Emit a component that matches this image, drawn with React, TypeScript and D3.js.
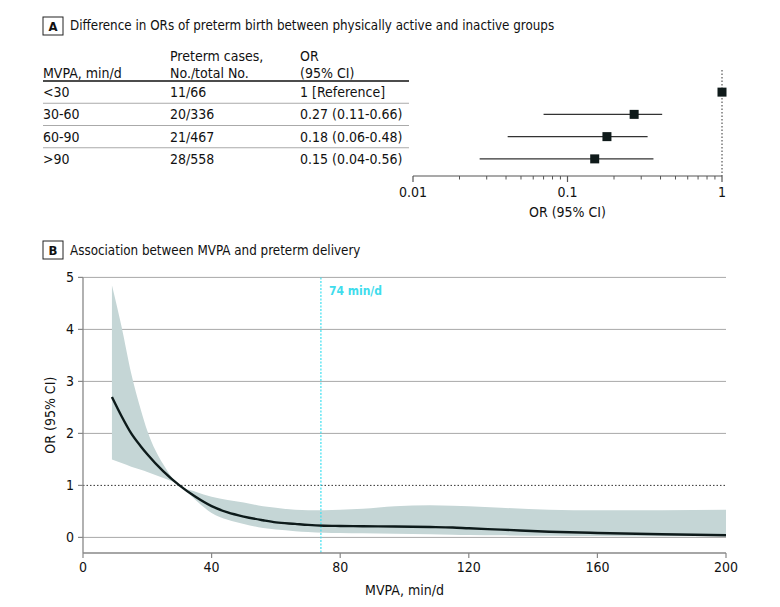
import React from 'react';
import * as d3 from 'd3';

// Panel A table + forest plot
const groups = ['<30', '30-60', '60-90', '>90'];
const cases = ['11/66', '20/336', '21/467', '28/558'];
const orText = ['1 [Reference]', '0.27 (0.11-0.66)', '0.18 (0.06-0.48)', '0.15 (0.04-0.56)'];
const orPoint = [1, 0.27, 0.18, 0.15];
// CI ends as drawn in the plot
const ciLow = [null, 0.07, 0.041, 0.027];
const ciHigh = [null, 0.41, 0.33, 0.36];
const forestTicks = [0.01, 0.1, 1];

// Panel B spline
const mvpa = [9, 12, 15, 18, 20, 25, 30, 35, 40, 45, 50, 56, 60, 66, 70, 75, 80, 87, 97, 108, 115, 120, 130, 145, 160, 180, 200];
const orCurve = [2.7, 2.33, 2.0, 1.75, 1.6, 1.27, 1.0, 0.78, 0.6, 0.48, 0.4, 0.33, 0.29, 0.26, 0.24, 0.225, 0.22, 0.215, 0.21, 0.2, 0.19, 0.175, 0.15, 0.11, 0.085, 0.06, 0.04];
const ciUpper = [4.85, 4.05, 3.15, 2.45, 2.05, 1.4, 1.0, 0.88, 0.78, 0.72, 0.67, 0.6, 0.57, 0.53, 0.52, 0.52, 0.53, 0.55, 0.6, 0.62, 0.61, 0.6, 0.57, 0.53, 0.52, 0.52, 0.53];
const ciLower = [1.5, 1.43, 1.36, 1.3, 1.26, 1.14, 1.0, 0.72, 0.47, 0.34, 0.26, 0.18, 0.15, 0.12, 0.105, 0.09, 0.085, 0.08, 0.07, 0.06, 0.05, 0.045, 0.04, 0.03, 0.025, 0.02, 0.02];
const xTicks = [0, 40, 80, 120, 160, 200];
const yTicks = [0, 1, 2, 3, 4, 5];
const cutoff = 74;

const FONT = '"Liberation Sans Narrow", "DejaVu Sans Condensed", "Arial Narrow", sans-serif';

export default function App() {
  // forest scales
  const fx = d3.scaleLog().domain([0.01, 1]).range([413, 722]);
  const rowY = d3.scaleBand<string>().domain(groups).range([81, 170]).paddingInner(0);
  const rowMid = (g: string) => (rowY(g) || 0) + rowY.bandwidth() / 2;
  const minorTicks = fx.ticks().filter(t => !forestTicks.some(m => Math.abs(m - t) < 1e-9));

  // spline scales
  const x = d3.scaleLinear().domain([0, 200]).range([83, 726]);
  const y = d3.scaleLinear().domain([-0.3, 5]).range([553, 277.4]);

  const pts = mvpa.map((m, i) => ({ m, or: orCurve[i], lo: ciLower[i], hi: ciUpper[i] }));
  const area = d3.area<typeof pts[0]>()
    .x(d => x(d.m)).y0(d => y(d.lo)).y1(d => y(d.hi))
    .curve(d3.curveMonotoneX);
  const line = d3.line<typeof pts[0]>()
    .x(d => x(d.m)).y(d => y(d.or))
    .curve(d3.curveMonotoneX);

  const colX = [43, 170, 300];

  return (
    <svg width={780} height={607} style={{ position: 'absolute', left: 0, top: 0, background: '#fff' }}
      fontFamily={FONT}>
      {/* Panel A header */}
      <rect x={43} y={17} width={20} height={18} fill="none" stroke="#222" strokeWidth={1} />
      <text x={53} y={31} textAnchor="middle" fontSize={13} fontWeight="bold" fill="#111">A</text>
      <text x={70} y={30} fontSize={13.3} fill="#111">Difference in ORs of preterm birth between physically active and inactive groups</text>

      {/* table header */}
      <g fontSize={14} fill="#111">
        <text x={colX[0]} y={78}>MVPA, min/d</text>
        <text x={colX[1]} y={61}>Preterm cases,</text>
        <text x={colX[1]} y={78}>No./total No.</text>
        <text x={colX[2]} y={61}>OR</text>
        <text x={colX[2]} y={78}>(95% CI)</text>
      </g>
      <line x1={43} x2={409} y1={81} y2={81} stroke="#111" strokeWidth={1.6} />
      {groups.map((g, i) => (
        <g key={g} fontSize={14} fill="#111">
          <text x={colX[0]} y={rowMid(g) + 5}>{g}</text>
          <text x={colX[1]} y={rowMid(g) + 5}>{cases[i]}</text>
          <text x={colX[2]} y={rowMid(g) + 5}>{orText[i]}</text>
          {i < groups.length - 1 && (
            <line x1={43} x2={409} y1={(rowY(g) || 0) + rowY.bandwidth()} y2={(rowY(g) || 0) + rowY.bandwidth()}
              stroke="#aaa" strokeWidth={1} />
          )}
        </g>
      ))}

      {/* forest plot */}
      <line x1={fx(1)} x2={fx(1)} y1={70} y2={176} stroke="#333" strokeWidth={1} strokeDasharray="1.5,2" />
      {groups.map((g, i) => (
        <g key={'f' + g}>
          {ciLow[i] != null && (
            <line x1={fx(ciLow[i] as number)} x2={fx(ciHigh[i] as number)} y1={rowMid(g)} y2={rowMid(g)}
              stroke="#333" strokeWidth={1.3} />
          )}
          <rect x={fx(orPoint[i]) - 4.5} y={rowMid(g) - 4.5} width={9} height={9} fill="#0f1a1a" />
        </g>
      ))}
      <line x1={fx(0.01)} x2={fx(1)} y1={176} y2={176} stroke="#555" strokeWidth={1.2} />
      {forestTicks.map(t => (
        <g key={'ft' + t}>
          <line x1={fx(t)} x2={fx(t)} y1={176} y2={182} stroke="#555" strokeWidth={1.2} />
          <text x={fx(t)} y={197} textAnchor="middle" fontSize={14} fill="#111">{t}</text>
        </g>
      ))}
      {minorTicks.map(t => (
        <line key={'mt' + t} x1={fx(t)} x2={fx(t)} y1={176} y2={179.5} stroke="#555" strokeWidth={1} />
      ))}
      <text x={fx(0.1)} y={217} textAnchor="middle" fontSize={14} fill="#111">OR (95% CI)</text>

      {/* Panel B header */}
      <rect x={43} y={241} width={20} height={18} fill="none" stroke="#222" strokeWidth={1} />
      <text x={53} y={255} textAnchor="middle" fontSize={13} fontWeight="bold" fill="#111">B</text>
      <text x={70} y={255} fontSize={13.3} fill="#111">Association between MVPA and preterm delivery</text>

      {/* grid */}
      {yTicks.filter(t => t !== 1).map(t => (
        <line key={'g' + t} x1={x(0)} x2={x(200)} y1={y(t)} y2={y(t)} stroke="#a8a8a8" strokeWidth={1} />
      ))}
      <path d={area(pts) || ''} fill="#c5d6d6" />
      <line x1={x(0)} x2={x(200)} y1={y(1)} y2={y(1)} stroke="#333" strokeWidth={1} strokeDasharray="1.5,2" />
      <line x1={x(cutoff)} x2={x(cutoff)} y1={y(5)} y2={y(-0.3)} stroke="#3fe0f0" strokeWidth={1.2} strokeDasharray="2,1.5" />
      <path d={line(pts) || ''} fill="none" stroke="#0d1a1a" strokeWidth={2.4} />
      <text x={x(cutoff) + 8} y={295} fontSize={12} fontWeight="bold" fill="#3fdcec">{cutoff} min/d</text>

      {/* axes */}
      <line x1={x(0)} x2={x(0)} y1={y(5)} y2={y(-0.3)} stroke="#888" strokeWidth={1.3} />
      <line x1={x(0)} x2={x(200)} y1={y(-0.3)} y2={y(-0.3)} stroke="#888" strokeWidth={1.3} />
      {yTicks.map(t => (
        <g key={'yt' + t}>
          <line x1={x(0) - 5} x2={x(0)} y1={y(t)} y2={y(t)} stroke="#888" strokeWidth={1.2} />
          <text x={x(0) - 9} y={y(t) + 5} textAnchor="end" fontSize={14} fill="#111">{t}</text>
        </g>
      ))}
      {xTicks.map(t => (
        <g key={'xt' + t}>
          <line x1={x(t)} x2={x(t)} y1={y(-0.3)} y2={y(-0.3) + 5} stroke="#888" strokeWidth={1.2} />
          <text x={x(t)} y={572} textAnchor="middle" fontSize={14} fill="#111">{t}</text>
        </g>
      ))}
      <text x={(x(0) + x(200)) / 2} y={595} textAnchor="middle" fontSize={14} fill="#111">MVPA, min/d</text>
      <text transform={`translate(55, ${(y(5) + y(-0.3)) / 2}) rotate(-90)`} textAnchor="middle" fontSize={14} fill="#111">OR (95% CI)</text>
    </svg>
  );
}
